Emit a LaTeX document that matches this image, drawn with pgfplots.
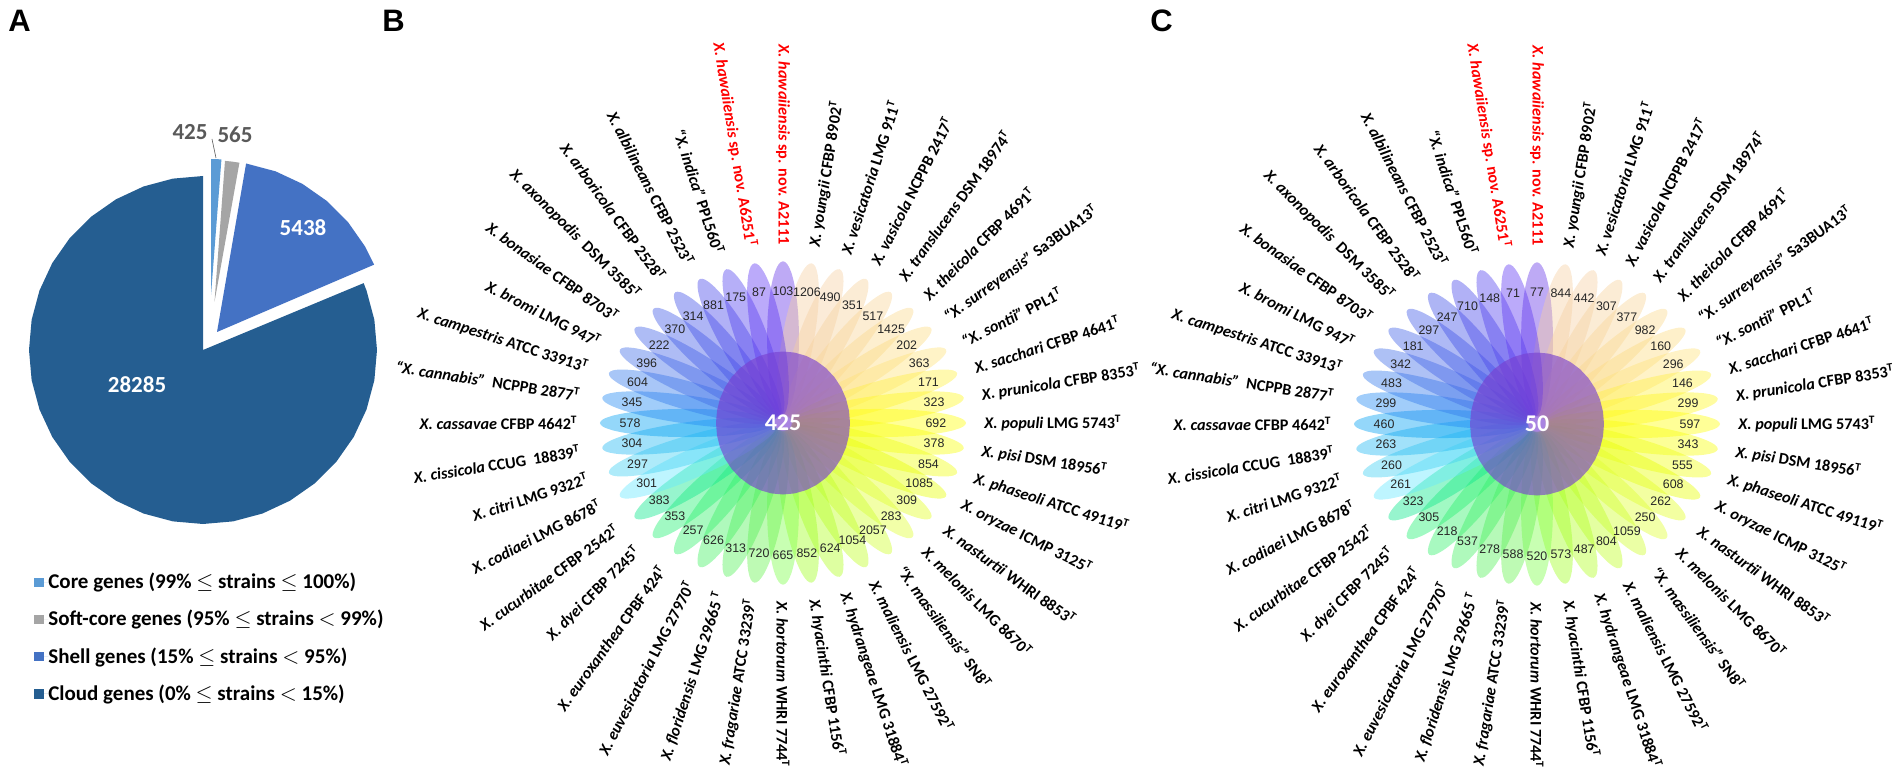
\documentclass[border=0pt]{standalone}
\usepackage{pgfplots}
\usepackage{pgfplotstable}
\pgfplotsset{compat=1.18}
\usepackage{fontspec}
\setmainfont{Carlito}
\newfontfamily\arial{Liberation Sans}

% pie wedges: angle (deg), radius (px)
\pgfplotstableread{
a r
90 0
90 136
88 136
85.6 136
}\wcore
\pgfplotstableread{
a r
85.75 0
85.75 141.5
83 141.5
79.85 141.5
}\wsoft
\pgfplotstableread{
a r
80.2 0
80.2 171
70 171
60 171
50 171
40 171
30 171
23.2 171
}\wshell
\pgfplotstableread{
a r
90 0
90 174
100 174
110 174
120 174
130 174
140 174
150 174
160 174
170 174
180 174
190 174
200 174
210 174
220 174
230 174
240 174
250 174
260 174
270 174
280 174
290 174
300 174
310 174
320 174
330 174
340 174
350 174
360 174
370 174
380 174
382.6 174
}\wcloud

% petal outline, radial u and tangential v
\pgfplotstableread{
u v
90 15
111.2 14.5
131 13
148 10.6
161 7.5
169.2 3.9
172 0
169.2 -3.9
161 -7.5
148 -10.6
131 -13
111.2 -14.5
90 -15
68.8 -14.5
49 -13
32 -10.6
19 -7.5
10.8 -3.9
8 0
10.8 3.9
19 7.5
32 10.6
49 13
68.8 14.5
90 15
}\petaltab

\pgfplotstableread{
a r
0 1
10 1
20 1
30 1
40 1
50 1
60 1
70 1
80 1
90 1
100 1
110 1
120 1
130 1
140 1
150 1
160 1
170 1
180 1
190 1
200 1
210 1
220 1
230 1
240 1
250 1
260 1
270 1
280 1
290 1
300 1
310 1
320 1
330 1
340 1
350 1
360 1
}\circtab

% shared genes per strain, panels B and C
\pgfplotstableread{
i b c
0 103 77
1 1206 844
2 490 442
3 351 307
4 517 377
5 1425 982
6 202 160
7 363 296
8 171 146
9 323 299
10 692 597
11 378 343
12 854 555
13 1085 608
14 309 262
15 283 250
16 2057 1059
17 1054 804
18 624 487
19 852 573
20 665 520
21 720 588
22 313 278
23 626 537
24 257 218
25 353 305
26 383 323
27 301 261
28 297 260
29 304 263
30 578 460
31 345 299
32 604 483
33 396 342
34 222 181
35 370 297
36 314 247
37 881 710
38 175 148
39 87 71
}\counts

\definecolor{p0}{HTML}{6434E7}\definecolor{p1}{HTML}{F5CFA2}\definecolor{p2}{HTML}{F5CFA2}\definecolor{p3}{HTML}{F6D19C}
\definecolor{p4}{HTML}{F8D595}\definecolor{p5}{HTML}{FAD88C}\definecolor{p6}{HTML}{FDDC80}\definecolor{p7}{HTML}{FFE27A}
\definecolor{p8}{HTML}{FFF040}\definecolor{p9}{HTML}{FFF820}\definecolor{p10}{HTML}{FFFF06}\definecolor{p11}{HTML}{F8FF08}
\definecolor{p12}{HTML}{F0FF10}\definecolor{p13}{HTML}{E7FF00}\definecolor{p14}{HTML}{E3FF20}\definecolor{p15}{HTML}{DFFF30}
\definecolor{p16}{HTML}{CFFF28}\definecolor{p17}{HTML}{BFFF20}\definecolor{p18}{HTML}{B0FF20}\definecolor{p19}{HTML}{A0FF20}
\definecolor{p20}{HTML}{7DFF48}\definecolor{p21}{HTML}{64F24C}\definecolor{p22}{HTML}{50F055}\definecolor{p23}{HTML}{40F060}
\definecolor{p24}{HTML}{30F068}\definecolor{p25}{HTML}{20F070}\definecolor{p26}{HTML}{07E78A}\definecolor{p27}{HTML}{64E7FF}
\definecolor{p28}{HTML}{3ED0F2}\definecolor{p29}{HTML}{20B8F2}\definecolor{p30}{HTML}{01A0F2}\definecolor{p31}{HTML}{1F88F2}
\definecolor{p32}{HTML}{2F78EC}\definecolor{p33}{HTML}{3E6BE7}\definecolor{p34}{HTML}{3E60E7}\definecolor{p35}{HTML}{3E58E7}
\definecolor{p36}{HTML}{3E4EE7}\definecolor{p37}{HTML}{4644EA}\definecolor{p38}{HTML}{5040EE}\definecolor{p39}{HTML}{5C34F2}
\definecolor{pcore}{HTML}{5B9BD5}\definecolor{psoft}{HTML}{A5A5A5}\definecolor{pshell}{HTML}{4472C4}\definecolor{pcloud}{HTML}{255E91}
\definecolor{hub}{HTML}{7840D0}\definecolor{lab}{HTML}{595959}

\newcommand{\pieslice}[4]{% table, apex x, apex y, colour
  \addplot[fill=#4,draw=none] table[x expr={#2+\thisrow{r}*cos(\thisrow{a})},y expr={#3+\thisrow{r}*sin(\thisrow{a})}] {#1};
}
\newcommand{\petal}[4]{% cx, cy, angle, colour
  \addplot[fill=#4,fill opacity=0.42,draw=none,smooth,tension=0.55,forget plot] table[
    x expr={#1+1.064*(\thisrow{u}*cos(#3)-\thisrow{v}*sin(#3))},
    y expr={#2+0.94*(\thisrow{u}*sin(#3)+\thisrow{v}*cos(#3))}] {\petaltab};
}
\newcommand{\spt}[3]{{\color{#1}\textit{#2}\ #3}}
\newcommand{\Tsup}{\textsuperscript{T}}
\newcommand{\spl}[6]{% cx, cy, index, colour, italic part, strain
  \pgfmathsetmacro\ang{90-9*#3}
  \ifnum#3>20 \def\rxx{205}\else \def\rxx{201}\fi
  \pgfmathsetmacro\lx{#1+\rxx*cos(\ang)}
  \pgfmathsetmacro\ly{#2+178*sin(\ang)}
  \ifnum#3>20 \def\anc{east}\pgfmathsetmacro\rr{\ang+180}\else
    \ifnum#3=0 \def\anc{east}\def\rr{-90}\else \def\anc{west}\let\rr\ang\fi\fi
  \edef\temp{\noexpand\node[rotate=\rr,anchor=\anc,inner sep=0pt,font=\noexpand\slfont] at (axis cs:\lx,\ly) {\noexpand\spt{#4}\unexpanded{{#5}{#6}}};}\temp
}
\newcommand{\slfont}{\fontsize{8.1}{9}\selectfont\bfseries}
\newcommand{\species}[2]{%
  \spl{#1}{#2}{0}{red}{X. hawaiiensis}{sp. nov. A2111}
  \spl{#1}{#2}{1}{black}{X. youngii}{CFBP 8902\Tsup}
  \spl{#1}{#2}{2}{black}{X. vesicatoria}{LMG 911\Tsup}
  \spl{#1}{#2}{3}{black}{X. vasicola}{NCPPB 2417\Tsup}
  \spl{#1}{#2}{4}{black}{X. translucens}{DSM 18974\Tsup}
  \spl{#1}{#2}{5}{black}{X. theicola}{CFBP 4691\Tsup}
  \spl{#1}{#2}{6}{black}{“X. surreyensis”}{Sa3BUA13\Tsup}
  \spl{#1}{#2}{7}{black}{“X. sontii”}{PPL1\Tsup}
  \spl{#1}{#2}{8}{black}{X. sacchari}{CFBP 4641\Tsup}
  \spl{#1}{#2}{9}{black}{X. prunicola}{CFBP 8353\Tsup}
  \spl{#1}{#2}{10}{black}{X. populi}{LMG 5743\Tsup}
  \spl{#1}{#2}{11}{black}{X. pisi}{DSM 18956\Tsup}
  \spl{#1}{#2}{12}{black}{X. phaseoli}{ATCC 49119\Tsup}
  \spl{#1}{#2}{13}{black}{X. oryzae}{ICMP 3125\Tsup}
  \spl{#1}{#2}{14}{black}{X. nasturtii}{WHRI 8853\Tsup}
  \spl{#1}{#2}{15}{black}{X. melonis}{LMG 8670\Tsup}
  \spl{#1}{#2}{16}{black}{“X. massiliensis”}{SN8\Tsup}
  \spl{#1}{#2}{17}{black}{X. maliensis}{LMG 27592\Tsup}
  \spl{#1}{#2}{18}{black}{X. hydrangeae}{LMG 31884\Tsup}
  \spl{#1}{#2}{19}{black}{X. hyacinthi}{CFBP 1156\Tsup}
  \spl{#1}{#2}{20}{black}{X. hortorum}{WHRI 7744\Tsup}
  \spl{#1}{#2}{21}{black}{X. fragariae}{ATCC 33239\Tsup}
  \spl{#1}{#2}{22}{black}{X. floridensis}{LMG 29665 \Tsup}
  \spl{#1}{#2}{23}{black}{X. euvesicatoria}{LMG 27970\Tsup}
  \spl{#1}{#2}{24}{black}{X. euroxanthea}{CPBF 424\Tsup}
  \spl{#1}{#2}{25}{black}{X. dyei}{CFBP 7245\Tsup}
  \spl{#1}{#2}{26}{black}{X. cucurbitae}{CFBP 2542\Tsup}
  \spl{#1}{#2}{27}{black}{X. codiaei}{LMG 8678\Tsup}
  \spl{#1}{#2}{28}{black}{X. citri}{LMG 9322\Tsup}
  \spl{#1}{#2}{29}{black}{X. cissicola}{CCUG\ \ 18839\Tsup}
  \spl{#1}{#2}{30}{black}{X. cassavae}{CFBP 4642\Tsup}
  \spl{#1}{#2}{31}{black}{“X. cannabis”}{\ NCPPB 2877\Tsup}
  \spl{#1}{#2}{32}{black}{X. campestris}{ATCC 33913\Tsup}
  \spl{#1}{#2}{33}{black}{X. bromi}{LMG 947\Tsup}
  \spl{#1}{#2}{34}{black}{X. bonasiae}{CFBP 8703\Tsup}
  \spl{#1}{#2}{35}{black}{X. axonopodis}{\ DSM 3585\Tsup}
  \spl{#1}{#2}{36}{black}{X. arboricola}{CFBP 2528\Tsup}
  \spl{#1}{#2}{37}{black}{X. albilineans}{CFBP 2523\Tsup}
  \spl{#1}{#2}{38}{black}{“X. indica”}{PPL560\Tsup}
  \spl{#1}{#2}{39}{red}{X. hawaiiensis}{sp. nov. A6251\Tsup}
}
\newcommand{\flower}[4]{% cx, cy, count column, core number
  \pgfplotsinvokeforeach{0,...,39}{%
    \pgfmathsetmacro\pang{90-9*##1}
    \edef\temp{\noexpand\petal{#1}{#2}{\pang}{p##1}}\temp
  }
  \addplot[fill=hub,fill opacity=0.64,draw=none,forget plot] table[
    x expr={#1+67*cos(\thisrow{a})},y expr={#2+71.5*sin(\thisrow{a})}] {\circtab};
  \addplot[draw=none,mark=none,forget plot,point meta=explicit symbolic,nodes near coords,
    nodes near coords style={anchor=center,inner sep=0pt,text=black!85,font=\arial\fontsize{6.2}{7}\selectfont}]
    table[x expr={#1+1.077*142*cos(90-9*\thisrow{i})},y expr={#2+0.93*142*sin(90-9*\thisrow{i})},meta=#3] {\counts};
  \node[text=white,font=\fontsize{12}{14}\selectfont\bfseries] at (axis cs:#1,#2) {#4};
  \species{#1}{#2}
}

\begin{document}
\begin{tikzpicture}
\useasboundingbox (0,0) rectangle (951pt,389pt);
\begin{axis}[
    at={(0,0)},anchor=south west,
    x=0.5pt,y=0.5pt,
    xmin=0,xmax=1902,ymin=0,ymax=778,
    hide axis,clip=false,
    legend style={draw=none,fill=none,at={(0.0147,0.269)},anchor=north west,
      font=\fontsize{10.5}{11.5}\selectfont\bfseries,row sep=9.3pt,
      nodes={inner sep=0pt,anchor=west}},
    legend cell align=left,
    legend image code/.code={\fill[#1] (0pt,-2.3pt) rectangle (4.6pt,2.3pt); \path (0pt,0pt) -- (7pt,0pt);},
  ]
\pieslice{\wcore}{211}{483}{pcore}
\pieslice{\wsoft}{214.5}{476}{psoft}
\pieslice{\wshell}{217}{446}{pshell}
\pieslice{\wcloud}{203}{428}{pcloud}
\addlegendentry{Core genes (99\% $\leq$ strains $\leq$ 100\%)}
\addlegendentry{Soft-core genes (95\% $\leq$ strains $<$ 99\%)}
\addlegendentry{Shell genes (15\% $\leq$ strains $<$ 95\%)}
\addlegendentry{Cloud genes (0\% $\leq$ strains $<$ 15\%)}
\addplot[lab,line width=0.3pt,forget plot] coordinates {(212,639) (216,620)};
\node[text=lab,font=\fontsize{11.5}{13}\selectfont\bfseries] at (axis cs:190,646) {425};
\node[text=lab,font=\fontsize{11.5}{13}\selectfont\bfseries] at (axis cs:235,643) {565};
\node[text=white,font=\fontsize{11.5}{13}\selectfont\bfseries] at (axis cs:303,550) {5438};
\node[text=white,font=\fontsize{11.5}{13}\selectfont\bfseries] at (axis cs:137,393) {28285};
\node[anchor=west,inner sep=0pt,font=\arial\fontsize{15.5}{17}\selectfont\bfseries] at (axis cs:8,757) {A};
\node[anchor=west,inner sep=0pt,font=\arial\fontsize{15.5}{17}\selectfont\bfseries] at (axis cs:382,757) {B};
\node[anchor=west,inner sep=0pt,font=\arial\fontsize{15.5}{17}\selectfont\bfseries] at (axis cs:1150,757) {C};
\flower{783}{355}{b}{425}
\flower{1537}{354}{c}{50}
\end{axis}
\end{tikzpicture}
\end{document}
